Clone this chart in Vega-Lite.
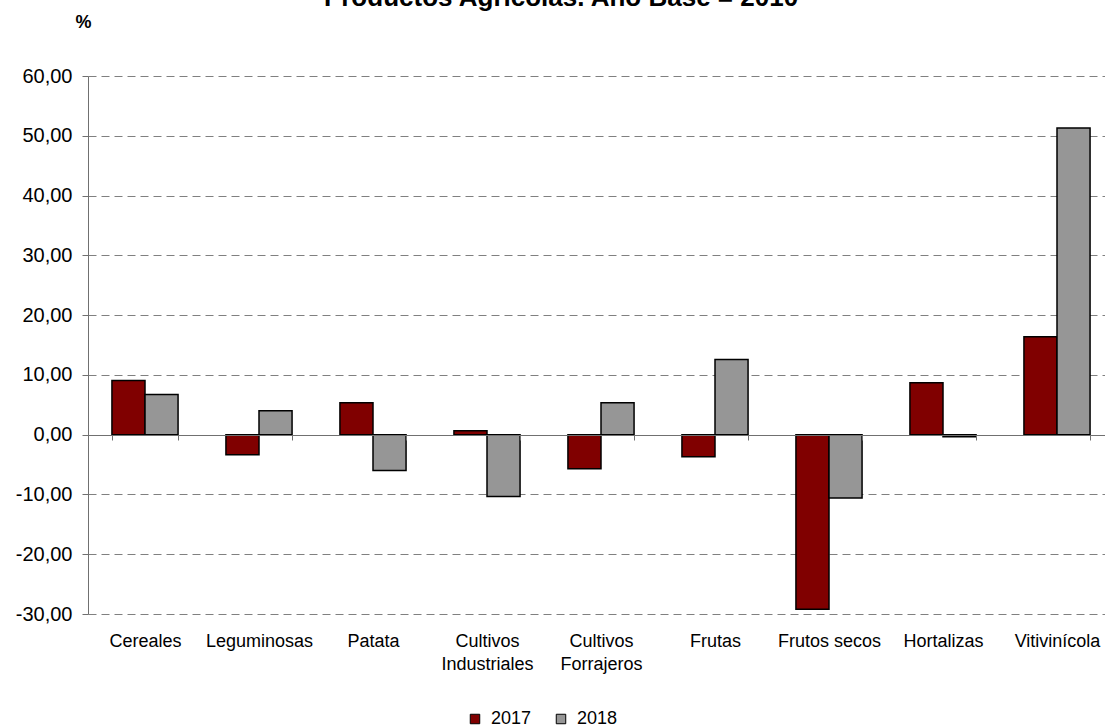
{
  "$schema": "https://vega.github.io/schema/vega-lite/v6.json",
  "autosize": {"type": "none"},
  "width": 1026,
  "height": 538,
  "padding": {"left": 88, "top": 76, "right": -9, "bottom": 114},
  "background": "white",
  "title": {
    "text": "Productos Agrícolas. Año Base = 2010",
    "font": "Liberation Sans",
    "fontSize": 26,
    "fontWeight": "bold",
    "color": "black",
    "anchor": "middle",
    "baseline": "alphabetic",
    "dx": -40,
    "dy": 19,
    "offset": 0
  },
  "data": {
    "values": [
      {"cat": "Cereales", "year": "2017", "value": 9.05},
      {"cat": "Cereales", "year": "2018", "value": 6.7},
      {"cat": "Leguminosas", "year": "2017", "value": -3.35},
      {"cat": "Leguminosas", "year": "2018", "value": 4.0},
      {"cat": "Patata", "year": "2017", "value": 5.36},
      {"cat": "Patata", "year": "2018", "value": -5.98},
      {"cat": "Cultivos\nIndustriales", "year": "2017", "value": 0.67},
      {"cat": "Cultivos\nIndustriales", "year": "2018", "value": -10.33},
      {"cat": "Cultivos\nForrajeros", "year": "2017", "value": -5.7},
      {"cat": "Cultivos\nForrajeros", "year": "2018", "value": 5.36},
      {"cat": "Frutas", "year": "2017", "value": -3.69},
      {"cat": "Frutas", "year": "2018", "value": 12.56},
      {"cat": "Frutos secos", "year": "2017", "value": -29.2},
      {"cat": "Frutos secos", "year": "2018", "value": -10.6},
      {"cat": "Hortalizas", "year": "2017", "value": 8.7},
      {"cat": "Hortalizas", "year": "2018", "value": -0.33},
      {"cat": "Vitivinícola", "year": "2017", "value": 16.4},
      {"cat": "Vitivinícola", "year": "2018", "value": 51.3}
    ]
  },
  "mark": {"type": "bar", "stroke": "black", "strokeWidth": 1.5},
  "encoding": {
    "x": {
      "field": "cat",
      "type": "nominal",
      "sort": null,
      "scale": {"paddingInner": 0.42, "paddingOuter": 0.21},
      "axis": {
        "title": null,
        "orient": "bottom",
        "offset": -179,
        "domain": true,
        "domainColor": "#707070",
        "domainWidth": 1,
        "ticks": true,
        "tickBand": "extent",
        "tickColor": "#707070",
        "tickSize": 5,
        "labelAngle": 0,
        "labelPadding": 192,
        "labelFont": "Liberation Sans",
        "labelFontSize": 18,
        "labelColor": "black",
        "labelLineHeight": 23,
        "labelExpr": "split(datum.label, '\\n')",
        "labelOverlap": false,
        "grid": false,
        "zindex": 1
      }
    },
    "xOffset": {"field": "year", "type": "nominal", "scale": {"domain": ["2017", "2018"]}},
    "y": {
      "field": "value",
      "type": "quantitative",
      "scale": {"domain": [-30, 60], "nice": false, "zero": false},
      "axis": {
        "values": [-30, -20, -10, 0, 10, 20, 30, 40, 50, 60],
        "labelExpr": "replace(replace(format(datum.value, '.2f'), '.', ','), '\u2212', '-')",
        "labelFont": "Liberation Sans",
        "labelFontSize": 20,
        "labelColor": "black",
        "labelPadding": 10,
        "tickSize": 6,
        "tickColor": "#707070",
        "domainColor": "#707070",
        "domainWidth": 1,
        "grid": true,
        "gridColor": "#808080",
        "gridDash": [8, 5],
        "gridWidth": 1,
        "title": "%",
        "titleFont": "Liberation Sans",
        "titleFontSize": 18,
        "titleFontWeight": "bold",
        "titleColor": "black",
        "titleAngle": 0,
        "titleAlign": "center",
        "titleBaseline": "middle",
        "titleX": -5,
        "titleY": -54
      }
    },
    "color": {
      "field": "year",
      "type": "nominal",
      "scale": {"domain": ["2017", "2018"], "range": ["#800000", "#969696"]},
      "legend": {
        "title": null,
        "orient": "none",
        "direction": "horizontal",
        "legendX": 378,
        "legendY": 634,
        "symbolType": "square",
        "symbolSize": 90,
        "symbolStrokeColor": "black",
        "symbolStrokeWidth": 1,
        "symbolOpacity": 1,
        "labelFont": "Liberation Sans",
        "labelFontSize": 18,
        "labelColor": "black",
        "labelOffset": 7,
        "columnPadding": 20
      }
    }
  },
  "config": {"view": {"stroke": null}}
}
